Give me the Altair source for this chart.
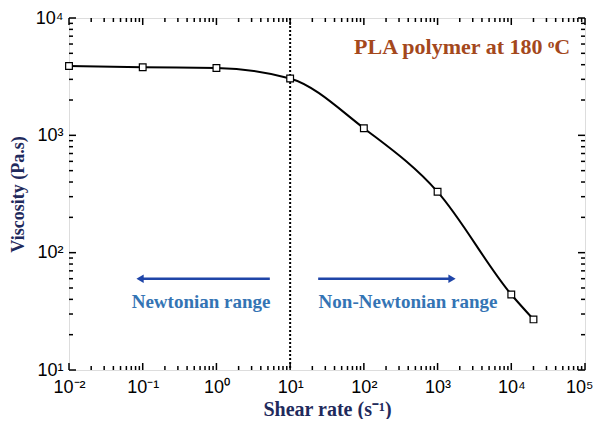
import altair as alt
import pandas as pd

# ---- data ----
shear = [0.01, 0.1, 1, 10, 100, 1000, 10000, 20000]
visc = [3900, 3800, 3750, 3050, 1150, 330, 44, 27]

x_ticks = [0.01, 0.1, 1, 10, 100, 1000, 10000, 100000]
x_labels = ["10⁻²", "10⁻¹", "10⁰", "10¹", "10²", "10³", "10⁴", "10⁵"]
y_ticks = [10, 100, 1000, 10000]
y_labels = ["10¹", "10²", "10³", "10⁴"]

x_minor = [k * 10.0 ** d for d in range(-2, 5) for k in range(2, 10)]
y_minor = [k * 10.0 ** d for d in range(1, 4) for k in range(2, 10)]

divider_x = [10]
arrow_left = {"x": [5.3, 0.092], "y": [60, 60]}
arrow_right = {"x": [24, 1570], "y": [60, 60]}
range_labels = {"x": [0.62, 398], "y": [37.7, 37.7],
                "text": ["Newtonian range", "Non-Newtonian range"]}
title_note = {"x": [63000], "y": [5680], "text": ["PLA polymer at 180 ᵒC"]}

W, H = 516, 352
xs = alt.Scale(type="log", domain=[0.01, 100000], nice=False)
ys = alt.Scale(type="log", domain=[10, 10000], nice=False)

SERIF = "Liberation Serif, Times New Roman, serif"
SANS = "Liberation Sans, Arial, sans-serif"


def label_expr(ticks, labels):
    s = "''"
    for t, l in reversed(list(zip(ticks, labels))):
        s = f"datum.value < {t * 1.5} ? '{l}' : ({s})"
    return s


navy = "#1f2a5c"

x_axis = alt.Axis(values=x_ticks, labelExpr=label_expr(x_ticks, x_labels),
                  title="Shear rate (s⁻¹)", ticks=False, domain=False, grid=False,
                  labelFont=SANS, labelFontSize=18, labelColor="black",
                  labelPadding=8, titleFont=SERIF, titleFontSize=20,
                  titleFontWeight="bold", titleColor=navy, titlePadding=3,
                  labelAlign={"condition": {"test": "datum.value > 50000", "value": "right"},
                              "value": "center"},
                  labelOffset={"condition": {"test": "datum.value > 50000", "value": 8},
                               "value": 0},
                  labelFlush=False, labelOverlap=False)
y_axis = alt.Axis(values=y_ticks, labelExpr=label_expr(y_ticks, y_labels),
                  title="Viscosity (Pa.s)", ticks=False, domain=False, grid=False,
                  labelFont=SANS, labelFontSize=18, labelColor="black",
                  labelPadding=6, titleFont=SERIF, titleFontSize=18,
                  titleFontWeight="bold", titleColor=navy, titlePadding=8,
                  labelFlush=False, labelOverlap=False)

df = pd.DataFrame({"shear": shear, "visc": visc})

line = alt.Chart(df).mark_line(color="black", strokeWidth=2, interpolate="monotone").encode(
    x=alt.X("shear:Q", scale=xs, axis=x_axis),
    y=alt.Y("visc:Q", scale=ys, axis=y_axis),
)
points = alt.Chart(df).mark_point(shape="square", size=45, filled=True, fill="white",
                                  stroke="black", strokeWidth=1.2, opacity=1).encode(
    x=alt.X("shear:Q", scale=xs), y=alt.Y("visc:Q", scale=ys))

divider = alt.Chart(pd.DataFrame({"x": divider_x})).mark_rule(
    color="black", strokeWidth=2, strokeDash=[2, 2]).encode(
    x=alt.X("x:Q", scale=xs))

# tick marks (inward) on all four sides
xt = pd.DataFrame({"v": x_ticks})
xm = pd.DataFrame({"v": x_minor})
yt = pd.DataFrame({"v": y_ticks})
ym = pd.DataFrame({"v": y_minor})

tick_layers = []
for lenv, df_x, df_y in [(7, xt, yt), (4, xm, ym)]:
    tick_layers.append(alt.Chart(df_x).mark_rule(color="black", strokeWidth=1.5).encode(
        x=alt.X("v:Q", scale=xs), y=alt.value(H), y2=alt.value(H - lenv)))
    tick_layers.append(alt.Chart(df_x).mark_rule(color="black", strokeWidth=1.5).encode(
        x=alt.X("v:Q", scale=xs), y=alt.value(0), y2=alt.value(lenv)))
    tick_layers.append(alt.Chart(df_y).mark_rule(color="black", strokeWidth=1.5).encode(
        y=alt.Y("v:Q", scale=ys), x=alt.value(0), x2=alt.value(lenv)))
    tick_layers.append(alt.Chart(df_y).mark_rule(color="black", strokeWidth=1.5).encode(
        y=alt.Y("v:Q", scale=ys), x=alt.value(W), x2=alt.value(W - lenv)))

arrow_color = "#1f45a8"
arrows = []
for a, shape in [(arrow_left, "triangle-left"), (arrow_right, "triangle-right")]:
    adf = pd.DataFrame(a)
    arrows.append(alt.Chart(adf).mark_line(color=arrow_color, strokeWidth=2.5).encode(
        x=alt.X("x:Q", scale=xs), y=alt.Y("y:Q", scale=ys)))
    arrows.append(alt.Chart(adf.iloc[[1]]).mark_point(
        shape=shape, size=70, filled=True, color=arrow_color, opacity=1).encode(
        x=alt.X("x:Q", scale=xs), y=alt.Y("y:Q", scale=ys)))

range_text = alt.Chart(pd.DataFrame(range_labels)).mark_text(
    font=SERIF, fontSize=19, fontWeight="bold", color="#3474b4").encode(
    x=alt.X("x:Q", scale=xs), y=alt.Y("y:Q", scale=ys), text="text:N")

note = alt.Chart(pd.DataFrame(title_note)).mark_text(
    font=SERIF, fontSize=22, fontWeight="bold", color="#a4481c",
    align="right").encode(
    x=alt.X("x:Q", scale=xs), y=alt.Y("y:Q", scale=ys), text="text:N")

chart = alt.layer(line, divider, *tick_layers, *arrows, range_text, note, points).properties(
    width=W, height=H,
    autosize=alt.AutoSizeParams(type="none"),
    padding={"left": 61, "top": 10, "right": 8, "bottom": 49},
).configure_view(stroke="black", strokeWidth=2).configure(background="white")

chart.save("out.html", embed_options={"renderer": "svg", "actions": False})
